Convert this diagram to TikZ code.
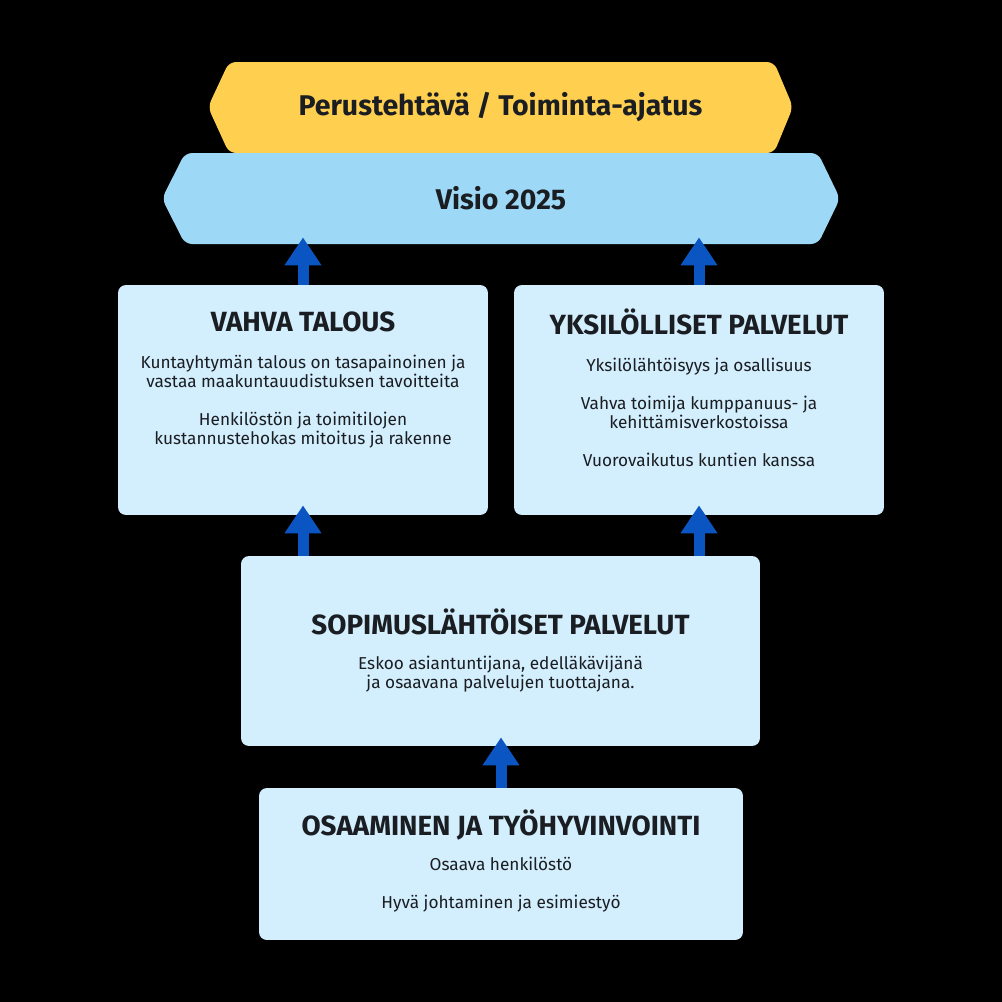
\documentclass[tikz,border=0pt]{standalone}
\usepackage{fontspec}
\setmainfont{Fira Sans}
\usetikzlibrary{arrows.meta,positioning}
\definecolor{sunny}{HTML}{FFCF4F}
\definecolor{sky}{HTML}{9DD8F6}
\definecolor{mist}{HTML}{D3EEFC}
\definecolor{royal}{HTML}{0A55C2}
\definecolor{ink}{HTML}{1A1D22}

\begin{document}
\begin{tikzpicture}[x=0.02cm,y=-0.02cm,font=\fontsize{9.8}{10.8}\selectfont,text=ink]
  \tikzset{
    bar/.style={minimum height=1.82cm,inner sep=0pt,font=\fontsize{16.2}{19}\selectfont\bfseries},
    card/.style={fill=mist,rounded corners=4.5pt,inner sep=0pt},
    heading/.style={font=\fontsize{15.8}{18}\selectfont\bfseries},
    body/.style={align=center,inner sep=0pt},
    lift/.style={royal,line width=.22cm,-{Triangle[width=.7cm,length=.56cm]}}
  }

  % Canvas.
  \fill[black] (0,0) rectangle (1002,1002);

  % Mission and vision bars.
  \fill[sunny,rounded corners=4pt] (208,107) -- (229,62) -- (774,62) -- (793,107) -- (774,153) -- (229,153) -- cycle;
  \node[bar,minimum width=11.7cm] (Top) at (500.5,107.5) {Perustehtävä / Toiminta-ajatus};
  \fill[sky,rounded corners=4pt] (162,198.5) -- (185,153) -- (818,153) -- (840,198.5) -- (818,244) -- (185,244) -- cycle;
  \node[bar,minimum width=13.56cm] (Vis) at (501,198.5) {Visio 2025};

  % Goal cards.
  \node[card,minimum width=7.4cm,minimum height=4.6cm] (VT) at (303,400) {};
  \node[heading] (VTh) at (303,322) {VAHVA TALOUS};
  \node[body] (VTb) at (303,402) {Kuntayhtymän talous on tasapainoinen ja\\vastaa maakuntauudistuksen tavoitteita\\[10.8pt]Henkilöstön ja toimitilojen\\kustannustehokas mitoitus ja rakenne};

  \node[card,minimum width=7.4cm,minimum height=4.6cm] (YP) at (699,400) {};
  \node[heading] (YPh) at (699,322) {YKSILÖLLISET PALVELUT};
  \node[body] (YPb) at (699,412) {Yksilölähtöisyys ja osallisuus\\[10.8pt]Vahva toimija kumppanuus- ja\\kehittämisverkostoissa\\[10.8pt]Vuorovaikutus kuntien kanssa};

  \draw[lift,shorten >=-.14cm] (VT.north) -- (VT.north |- Vis.south);
  \draw[lift,shorten >=-.14cm] (YP.north) -- (YP.north |- Vis.south);

  % Service card.
  \node[card,minimum width=10.38cm,minimum height=3.8cm] (SP) at (500.5,651) {};
  \node[heading] (SPh) at (500.5,622) {SOPIMUSLÄHTÖISET PALVELUT};
  \node[body] (SPb) at (500.5,674) {Eskoo asiantuntijana, edelläkävijänä\\ja osaavana palvelujen tuottajana.};

  \draw[lift,shorten >=-.2cm] (SP.north -| VT.south) -- (VT.south);
  \draw[lift,shorten >=-.2cm] (SP.north -| YP.south) -- (YP.south);

  % Foundation card.
  \node[card,minimum width=9.68cm,minimum height=3.04cm] (OT) at (501,864) {};
  \node[heading] (OTh) at (501,825) {OSAAMINEN JA TYÖHYVINVOINTI};
  \node[body] (OTb) at (501,885) {Osaava henkilöstö\\[10.8pt]Hyvä johtaminen ja esimiestyö};

  \draw[lift,shorten >=-.18cm] (OT.north) -- (OT.north |- SP.south);
\end{tikzpicture}
\end{document}
